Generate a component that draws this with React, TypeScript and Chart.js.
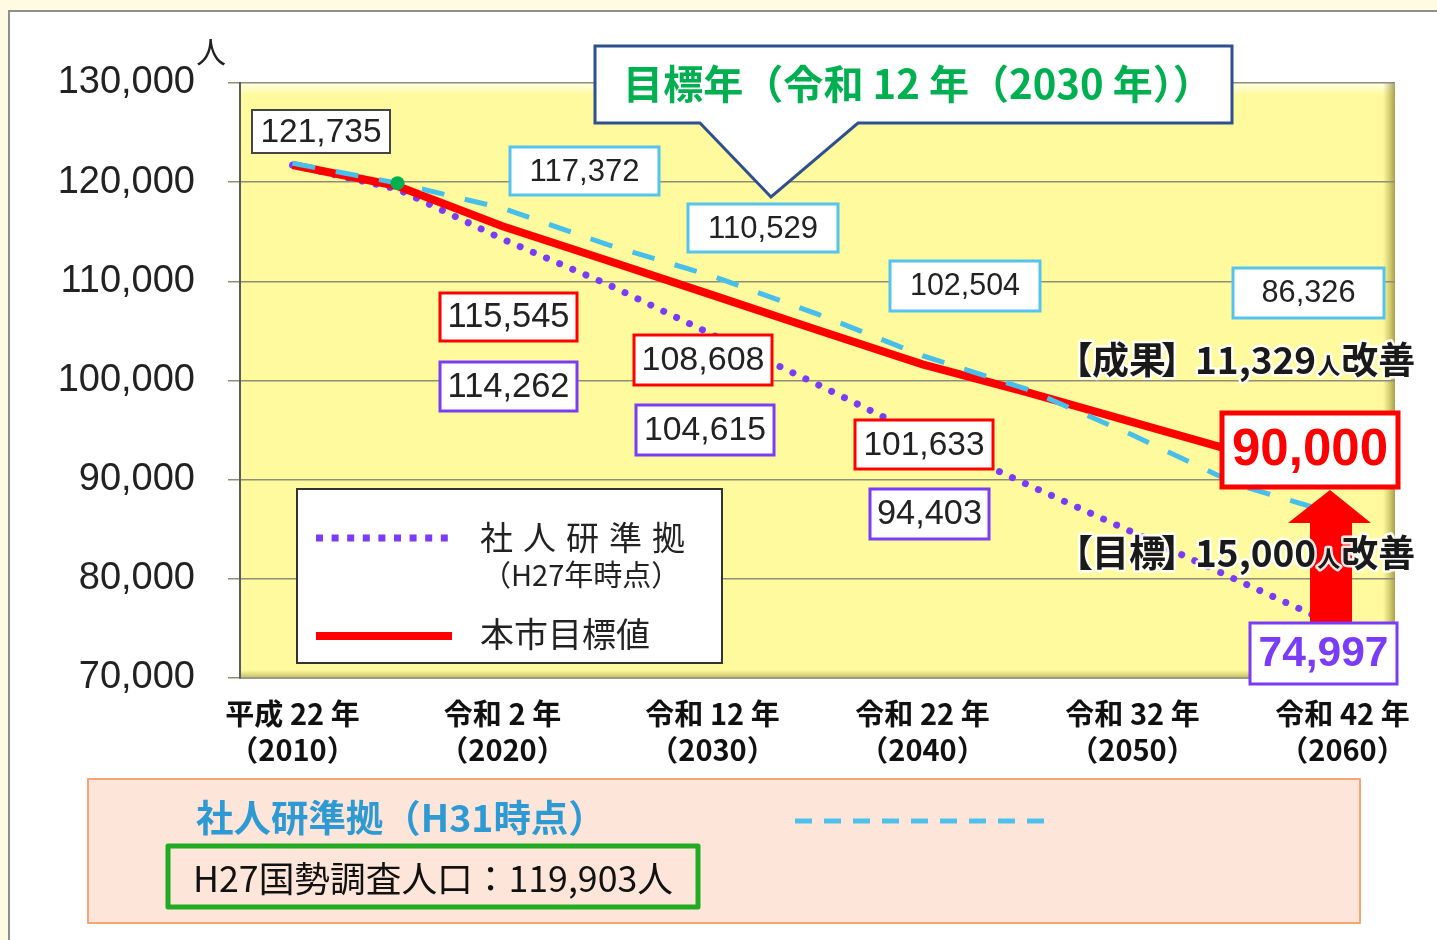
import React, { useEffect, useRef } from 'react';
import { Chart, registerables } from 'chart.js';

Chart.register(...registerables);

// ---------------- data ----------------
const categories = ['2010', '2015', '2020', '2025', '2030', '2035', '2040', '2045', '2050', '2055', '2060'];
const xLabelEra = ['平成 22 年', '', '令和 2 年', '', '令和 12 年', '', '令和 22 年', '', '令和 32 年', '', '令和 42 年'];
const xLabelYear = ['（2010）', '', '（2020）', '', '（2030）', '', '（2040）', '', '（2050）', '', '（2060）'];

// 本市目標値
const targetValues = [121735, 119600, 115545, 112100, 108608, 105100, 101633, 98800, 95800, 92800, 90000];
// 社人研準拠（H31時点）
const ipssH31Values = [121900, 119903, 117372, 113700, 110529, 106700, 102504, 99100, 94500, 89500, 86326];
// 社人研準拠（H27年時点）
const ipssH27Values = [121735, 119300, 114262, 109700, 104615, 99600, 94403, 89500, 84700, 79850, 74997];
// H27国勢調査人口
const censusValues = [null, 119903, null, null, null, null, null, null, null, null, null];

const yMin = 70000;
const yMax = 130000;
const yStep = 10000;

const resultImprovement = 11329;
const goalImprovement = 15000;

// ---------------- styles / layout ----------------
const W = 1437;
const H = 940;
const CJK = '"Noto Sans CJK JP", "Noto Sans", sans-serif';
const NUM = '"Liberation Sans", Arial, sans-serif';
const RED = '#FF0000';
const BLUE = '#48BEEB';
const PURPLE = '#7A3CF6';
const GREEN = '#00B050';

const fmt = (v: number) => v.toLocaleString('en-US');

const seriesMap: Record<string, number[]> = { target: targetValues, h31: ipssH31Values, h27: ipssH27Values };

type Box = { s: string; i: number; box: number[]; border: string; lw: number; color: string; bold: boolean; tw: number };
const valueBoxes: Box[] = [
  { s: 'target', i: 0, box: [252, 110, 390, 153], border: '#444444', lw: 2, color: '#222', bold: false, tw: 121 },
  { s: 'h31', i: 2, box: [510, 147, 659, 195], border: '#55C3EF', lw: 3, color: '#222', bold: false, tw: 110 },
  { s: 'h31', i: 4, box: [688, 204, 838, 252], border: '#55C3EF', lw: 3, color: '#222', bold: false, tw: 110 },
  { s: 'h31', i: 6, box: [890, 261, 1040, 311], border: '#55C3EF', lw: 3, color: '#222', bold: false, tw: 110 },
  { s: 'h31', i: 10, box: [1233, 268, 1384, 318], border: '#55C3EF', lw: 3, color: '#222', bold: false, tw: 94 },
  { s: 'target', i: 2, box: [440, 293, 577, 341], border: RED, lw: 3, color: '#222', bold: false, tw: 122 },
  { s: 'h27', i: 2, box: [440, 362, 577, 411], border: PURPLE, lw: 3, color: '#222', bold: false, tw: 122 },
  { s: 'target', i: 4, box: [634, 335, 772, 385], border: RED, lw: 3, color: '#222', bold: false, tw: 123 },
  { s: 'h27', i: 4, box: [636, 405, 774, 455], border: PURPLE, lw: 3, color: '#222', bold: false, tw: 122 },
  { s: 'target', i: 6, box: [855, 420, 993, 469], border: RED, lw: 3, color: '#222', bold: false, tw: 121 },
  { s: 'h27', i: 6, box: [870, 489, 989, 539], border: PURPLE, lw: 3, color: '#222', bold: false, tw: 105 },
];
const bigBoxes: Box[] = [
  { s: 'target', i: 10, box: [1222, 413, 1398, 487], border: RED, lw: 5, color: RED, bold: true, tw: 156 },
  { s: 'h27', i: 10, box: [1250, 623, 1397, 684], border: PURPLE, lw: 3, color: PURPLE, bold: true, tw: 130 },
];

function setFitFont(ctx: CanvasRenderingContext2D, text: string, width: number, weight: string, family: string, maxSize: number) {
  ctx.font = `${weight} 100px ${family}`;
  const w = ctx.measureText(text).width;
  const size = Math.min(maxSize, (100 * width) / w);
  ctx.font = `${weight} ${size}px ${family}`;
  return size;
}

function drawBox(ctx: CanvasRenderingContext2D, b: Box) {
  const [x1, y1, x2, y2] = b.box;
  ctx.fillStyle = '#FFFFFF';
  ctx.fillRect(x1, y1, x2 - x1, y2 - y1);
  ctx.strokeStyle = b.border;
  ctx.lineWidth = b.lw;
  ctx.strokeRect(x1, y1, x2 - x1, y2 - y1);
  const text = fmt(seriesMap[b.s][b.i]);
  setFitFont(ctx, text, b.tw, b.bold ? 'bold' : 'normal', NUM, b.bold ? 56 : 35);
  ctx.fillStyle = b.color;
  ctx.textAlign = 'center';
  ctx.textBaseline = 'middle';
  ctx.fillText(text, (x1 + x2) / 2, (y1 + y2) / 2 + 1);
}

function drawImprovement(ctx: CanvasRenderingContext2D, label: string, value: number, x: number, baseline: number) {
  const parts = [
    { t: '【', size: 37, adv: -8 },
    { t: label, size: 37, adv: 0 },
    { t: '】', size: 37, adv: -10 },
    { t: fmt(value), size: 37, adv: 0 },
    { t: '人', size: 23, adv: 0 },
    { t: '改善', size: 37, adv: 0 },
  ];
  ctx.textAlign = 'left';
  ctx.textBaseline = 'alphabetic';
  let cx = x;
  for (const p of parts) {
    ctx.font = `bold ${p.size}px ${CJK}`;
    const w = ctx.measureText(p.t).width;
    const dx = p.t === '【' ? -6 : p.t === '】' ? -6 : 0;
    ctx.lineJoin = 'round';
    ctx.strokeStyle = 'rgba(255,255,255,0.9)';
    ctx.lineWidth = 5;
    ctx.strokeText(p.t, cx + dx, baseline);
    ctx.fillStyle = '#1A1A1A';
    ctx.fillText(p.t, cx + dx, baseline);
    cx += w + 1 + p.adv;
  }
}

const decorPlugin = {
  id: 'decor',
  beforeDraw(chart: any) {
    const ctx: CanvasRenderingContext2D = chart.ctx;
    const { left, top, right, bottom } = chart.chartArea;
    ctx.save();
    // page + frame
    ctx.fillStyle = '#FFFBE2';
    ctx.fillRect(0, 0, W, H);
    ctx.fillStyle = '#FFFFFF';
    ctx.fillRect(9, 11, W, H);
    ctx.strokeStyle = '#8E8E8E';
    ctx.lineWidth = 2;
    ctx.beginPath();
    ctx.moveTo(9, H);
    ctx.lineTo(9, 11);
    ctx.lineTo(W, 11);
    ctx.stroke();
    // plot area
    ctx.fillStyle = '#FFFA9E';
    ctx.fillRect(left, top, right - left, bottom - top);
    const gt = ctx.createLinearGradient(0, top, 0, top + 12);
    gt.addColorStop(0, 'rgba(255,255,235,0.95)');
    gt.addColorStop(1, 'rgba(255,255,235,0)');
    ctx.fillStyle = gt;
    ctx.fillRect(left, top, right - left, 12);
    const gr = ctx.createLinearGradient(right - 12, 0, right, 0);
    gr.addColorStop(0, 'rgba(140,130,30,0)');
    gr.addColorStop(1, 'rgba(110,100,20,0.6)');
    ctx.fillStyle = gr;
    ctx.fillRect(right - 12, top, 12, bottom - top);
    const gb = ctx.createLinearGradient(0, bottom - 8, 0, bottom);
    gb.addColorStop(0, 'rgba(140,130,30,0)');
    gb.addColorStop(1, 'rgba(110,100,20,0.45)');
    ctx.fillStyle = gb;
    ctx.fillRect(left, bottom - 8, right - left, 8);
    ctx.restore();
  },
  afterDraw(chart: any) {
    const ctx: CanvasRenderingContext2D = chart.ctx;
    ctx.save();

    // y axis unit
    ctx.font = `normal 30px ${CJK}`;
    ctx.fillStyle = '#222';
    ctx.textAlign = 'center';
    ctx.textBaseline = 'middle';
    ctx.fillText('人', 211, 52);

    // legend box
    ctx.fillStyle = '#FFFFFF';
    ctx.fillRect(297, 489, 425, 174);
    ctx.strokeStyle = '#333';
    ctx.lineWidth = 2;
    ctx.strokeRect(297, 489, 425, 174);
    ctx.strokeStyle = PURPLE;
    ctx.lineWidth = 7;
    ctx.lineCap = 'butt';
    ctx.setLineDash([7, 8.6]);
    ctx.beginPath();
    ctx.moveTo(316, 538);
    ctx.lineTo(449, 538);
    ctx.stroke();
    ctx.setLineDash([]);
    ctx.strokeStyle = RED;
    ctx.lineWidth = 8;
    ctx.beginPath();
    ctx.moveTo(316, 636);
    ctx.lineTo(452, 636);
    ctx.stroke();
    ctx.fillStyle = '#222';
    ctx.textAlign = 'left';
    ctx.font = `normal 33px ${CJK}`;
    const legChars = ['社', '人', '研', '準', '拠'];
    legChars.forEach((c, k) => ctx.fillText(c, 480 + k * 43, 537));
    ctx.font = `normal 29px ${CJK}`;
    ctx.fillText('（H27年時点）', 482, 575);
    ctx.font = `normal 34px ${CJK}`;
    ctx.fillText('本市目標値', 480, 634);

    // value boxes
    for (const b of valueBoxes) drawBox(ctx, b);

    // callout
    ctx.beginPath();
    ctx.moveTo(595, 46);
    ctx.lineTo(1232, 46);
    ctx.lineTo(1232, 123);
    ctx.lineTo(858, 123);
    ctx.lineTo(771, 197);
    ctx.lineTo(700, 123);
    ctx.lineTo(595, 123);
    ctx.closePath();
    ctx.fillStyle = '#FFFFFF';
    ctx.fill();
    ctx.strokeStyle = '#2F4F8F';
    ctx.lineWidth = 3;
    ctx.lineJoin = 'miter';
    ctx.stroke();
    const calloutText = '目標年（令和 12 年（2030 年））';
    setFitFont(ctx, calloutText, 590, 'bold', CJK, 42);
    ctx.fillStyle = GREEN;
    ctx.textAlign = 'center';
    ctx.textBaseline = 'middle';
    ctx.fillText(calloutText, 918, 84);

    // arrow
    ctx.fillStyle = RED;
    ctx.beginPath();
    ctx.moveTo(1330, 490);
    ctx.lineTo(1371, 523);
    ctx.lineTo(1352, 523);
    ctx.lineTo(1352, 625);
    ctx.lineTo(1310, 625);
    ctx.lineTo(1310, 523);
    ctx.lineTo(1288, 523);
    ctx.closePath();
    ctx.fill();

    for (const b of bigBoxes) drawBox(ctx, b);

    drawImprovement(ctx, '成果', resultImprovement, 1062, 374);
    drawImprovement(ctx, '目標', goalImprovement, 1062, 567);

    // bottom panel
    ctx.fillStyle = '#FDE6D9';
    ctx.fillRect(88, 779, 1272, 144);
    ctx.strokeStyle = '#F5A472';
    ctx.lineWidth = 2;
    ctx.strokeRect(88, 779, 1272, 144);
    const h31Title = '社人研準拠（H31時点）';
    setFitFont(ctx, h31Title, 410, 'bold', CJK, 38);
    ctx.fillStyle = '#2E9AD4';
    ctx.textAlign = 'left';
    ctx.textBaseline = 'middle';
    ctx.fillText(h31Title, 196, 818);
    ctx.strokeStyle = '#4DC0EC';
    ctx.lineWidth = 5;
    ctx.setLineDash([17, 12]);
    ctx.beginPath();
    ctx.moveTo(795, 821);
    ctx.lineTo(1056, 821);
    ctx.stroke();
    ctx.setLineDash([]);
    ctx.strokeStyle = '#22AA22';
    ctx.lineWidth = 5;
    ctx.strokeRect(168, 846, 530, 61);
    const censusText = `H27国勢調査人口：${fmt(censusValues[1] as number)}人`;
    setFitFont(ctx, censusText, 480, 'normal', CJK, 36);
    ctx.fillStyle = '#111';
    ctx.textAlign = 'center';
    ctx.fillText(censusText, 433, 878);

    ctx.restore();
  },
};

export default function App() {
  const ref = useRef<HTMLCanvasElement>(null);

  useEffect(() => {
    const canvas = ref.current;
    if (!canvas) return;
    const chart = new Chart(canvas, {
      type: 'line',
      data: {
        labels: categories,
        datasets: [
          {
            label: 'H27国勢調査人口',
            data: censusValues as any,
            showLine: false,
            pointRadius: 7,
            pointBackgroundColor: GREEN,
            pointBorderWidth: 0,
            order: 0,
          },
          {
            label: '社人研準拠（H31時点）',
            data: ipssH31Values,
            borderColor: BLUE,
            borderWidth: 5,
            borderDash: [23, 21],
            pointRadius: 0,
            tension: 0,
            fill: false,
            order: 1,
          },
          {
            label: '本市目標値',
            data: targetValues,
            borderColor: RED,
            borderWidth: 8,
            pointRadius: 0,
            tension: 0,
            fill: false,
            order: 2,
          },
          {
            label: '社人研準拠（H27年時点）',
            data: ipssH27Values,
            borderColor: PURPLE,
            borderWidth: 7,
            borderDash: [0.01, 14.3],
            borderCapStyle: 'round',
            pointRadius: 0,
            tension: 0,
            fill: false,
            order: 3,
          },
        ],
      },
      options: {
        responsive: false,
        maintainAspectRatio: false,
        devicePixelRatio: 1,
        animation: false,
        events: [],
        layout: { padding: { left: 0, top: 83, right: 42, bottom: 0 } },
        plugins: {
          legend: { display: false },
          tooltip: { enabled: false },
          title: { display: false },
        },
        scales: {
          x: {
            type: 'category',
            offset: true,
            grid: { display: false, drawTicks: false },
            border: { display: true, color: '#9A9A8A', width: 2 },
            ticks: {
              autoSkip: false,
              maxRotation: 0,
              minRotation: 0,
              padding: 18,
              color: '#111',
              font: { family: CJK, size: 29, weight: 'bold', lineHeight: 1.25 },
              callback: (_v: any, i: number) => (xLabelEra[i] ? [xLabelEra[i], xLabelYear[i]] : ''),
            },
            afterFit: (s: any) => {
              s.height = H - 678;
            },
          },
          y: {
            min: yMin,
            max: yMax,
            grid: { color: '#8E8E78', lineWidth: 1.5, tickLength: 12, drawTicks: true },
            border: { display: true, color: '#5A5A5A', width: 2 },
            ticks: {
              stepSize: yStep,
              padding: 33,
              color: '#222',
              font: { family: NUM, size: 38 },
              callback: (v: any) => fmt(Number(v)),
            },
            afterFit: (s: any) => {
              s.width = 240;
            },
          },
        },
      },
      plugins: [decorPlugin],
    } as any);
    return () => chart.destroy();
  }, []);

  return (
    <canvas
      ref={ref}
      width={W}
      height={H}
      style={{ position: 'fixed', left: 0, top: 0, width: W, height: H, display: 'block' }}
    />
  );
}
